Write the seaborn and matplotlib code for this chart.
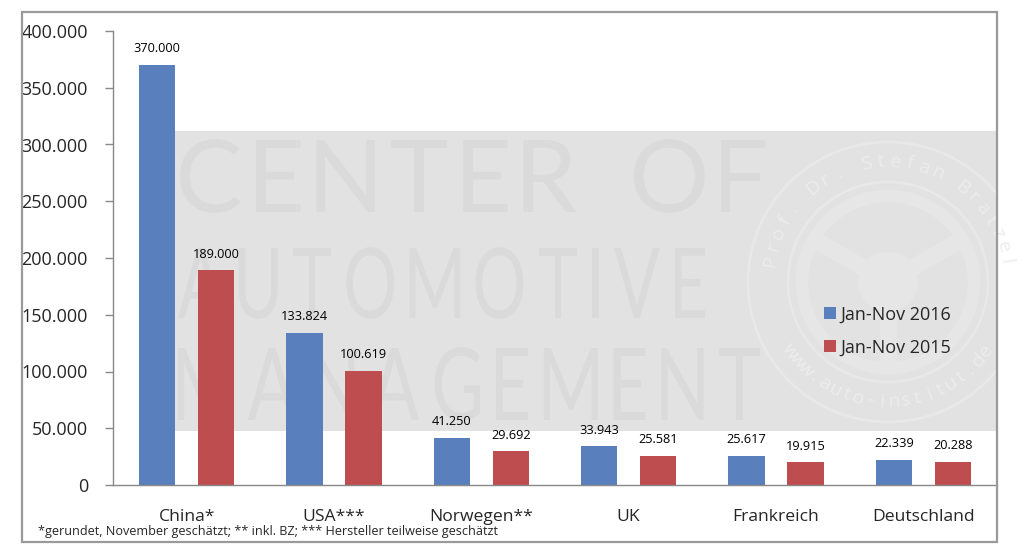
import numpy as np
import pandas as pd
import matplotlib
matplotlib.use("Agg")
import matplotlib.pyplot as plt
import seaborn as sns
from matplotlib.patches import Rectangle, PathPatch, Circle, Patch
from matplotlib.textpath import TextPath
from matplotlib.font_manager import FontProperties
from matplotlib.transforms import Affine2D

# ---------------- data ----------------
countries = ["China*", "USA***", "Norwegen**", "UK", "Frankreich", "Deutschland"]
values_2016 = [370000, 133824, 41250, 33943, 25617, 22339]
values_2015 = [189000, 100619, 29692, 25581, 19915, 20288]
series_labels = ["Jan-Nov 2016", "Jan-Nov 2015"]
y_ticks = [0, 50000, 100000, 150000, 200000, 250000, 300000, 350000, 400000]
footnote = "*gerundet, November geschätzt; ** inkl. BZ; *** Hersteller teilweise geschätzt"
watermark_lines = ["CENTER OF", "AUTOMOTIVE", "MANAGEMENT"]

colors = {series_labels[0]: "#5A7FBD", series_labels[1]: "#BE4D4F"}

df = pd.DataFrame({
    "Land": countries * 2,
    "Wert": values_2016 + values_2015,
    "Zeitraum": [series_labels[0]] * len(countries) + [series_labels[1]] * len(countries),
})

def de(v):
    return f"{v:,.0f}".replace(",", ".")

sns.set_style("white")
plt.rcParams["font.family"] = ["Open Sans", "DejaVu Sans"]

W, H = 1026, 558
fig = plt.figure(figsize=(W / 100, H / 100), dpi=100)
ax = fig.add_axes([113 / W, 1 - 485 / H, (997 - 113) / W, (485 - 31) / H])

# pixel helper (image pixels, y downward) -> figure fraction
pix = Affine2D().scale(1 / W, -1 / H).translate(0, 1) + fig.transFigure

# gray watermark band
band = Rectangle((170, 131), 997 - 170, 431 - 131, transform=pix,
                 facecolor="#E2E2E2", edgecolor="none", zorder=0.5)
ax.add_artist(band)

# watermark text: letter-spaced glyphs fitted into boxes
wm_font = FontProperties(family="Lato", weight="normal")
cap_ext = TextPath((0, 0), "H", size=100, prop=wm_font).get_extents()
boxes = [(180, 140, 765, 212), (178, 248, 705, 318), (178, 348, 760, 420)]
for txt, (x0, y0, x1, y1) in zip(watermark_lines, boxes):
    sy = (y1 - y0) / cap_ext.height
    glyphs = []
    for ch in txt:
        if ch == " ":
            glyphs.append((None, 25.0, 0))
        else:
            tp = TextPath((0, 0), ch, size=100, prop=wm_font)
            e = tp.get_extents()
            glyphs.append((tp, e.width, e.x0))
    n = len(glyphs)
    nat = sum(g[1] for g in glyphs)
    min_gap = 0.22 * (y1 - y0)
    sx = min(sy, ((x1 - x0) - min_gap * (n - 1)) / nat)
    gap = ((x1 - x0) - nat * sx) / (n - 1)
    xpos = x0
    for tp, w, ex0 in glyphs:
        if tp is not None:
            tr = (Affine2D().translate(-ex0, -cap_ext.y0).scale(sx, -sy)
                  .translate(xpos, y1) + pix)
            pp = PathPatch(tp, transform=tr, facecolor="#DADADA",
                           edgecolor="none", zorder=0.6)
            pp.set_clip_path(band)
            ax.add_artist(pp)
        xpos += w * sx + gap

# watermark seal
cx, cy = 888, 282
for r, lw, col in [(140, 2.0, "#E8E8E8"), (100, 2.0, "#E8E8E8"), (86, 9, "#E6E6E6")]:
    c = Circle((cx, cy), r, transform=pix, facecolor="none", edgecolor=col,
               lw=lw, zorder=0.6)
    c.set_clip_path(band)
    ax.add_artist(c)
for ang in [150, 30, 270]:
    a = np.deg2rad(ang)
    xs = [cx + 25 * np.cos(a), cx + 86 * np.cos(a)]
    ys = [cy - 25 * np.sin(a), cy - 86 * np.sin(a)]
    ln, = ax.plot(xs, ys, transform=pix, color="#E6E6E6", lw=12, zorder=0.6,
                  solid_capstyle="butt")
    ln.set_clip_path(band)
hub = Circle((cx, cy), 30, transform=pix, facecolor="#E6E6E6", edgecolor="none", zorder=0.6)
hub.set_clip_path(band)
ax.add_artist(hub)

def arc_text(s, start, end, radius, upper=True):
    n = len(s)
    angs = np.linspace(start, end, n)
    for ch, a in zip(s, angs):
        ar = np.deg2rad(a)
        x = cx + radius * np.cos(ar)
        y = cy - radius * np.sin(ar)
        rot = a - 90 if upper else a + 90
        t = ax.text(x, y, ch, transform=pix, fontsize=14, color="#ECECEC",
                    ha="center", va="center", rotation=rot, zorder=0.65)
        t.set_clip_path(band)

arc_text("Prof. Dr. Stefan Bratzel", 170, 10, 120, upper=True)
arc_text("www.auto-institut.de", 215, 325, 120, upper=False)

# ---------------- bars ----------------
sns.barplot(data=df, x="Land", y="Wert", hue="Zeitraum", palette=colors,
            hue_order=series_labels, order=countries, width=0.8, gap=0.38,
            saturation=1, linewidth=0, ax=ax, zorder=2)

for cont in ax.containers:
    ax.bar_label(cont, labels=[de(v) for v in cont.datavalues], padding=7,
                 fontsize=9.2, color="black")

ax.set_xlim(-0.5, 5.5)
ax.set_ylim(0, 400000)
ax.set_yticks(y_ticks)
ax.set_yticklabels([de(v) for v in y_ticks], fontsize=13)
ax.set_xticks(range(len(countries)))
ax.set_xticklabels(countries, fontsize=12.6)
ax.set_xticks(np.arange(-0.5, 5.0, 1.0), minor=True)
ax.tick_params(axis="x", which="major", length=0, pad=17)
ax.tick_params(axis="x", which="minor", length=6, width=1, color="#888888", direction="out")
ax.tick_params(axis="y", which="major", length=6, width=1, color="#888888",
               direction="out", pad=12, left=True)
ax.set_xlabel("")
ax.set_ylabel("")
for side in ["top", "right"]:
    ax.spines[side].set_visible(False)
for side in ["left", "bottom"]:
    ax.spines[side].set_color("#888888")
    ax.spines[side].set_linewidth(1)
    ax.spines[side].set_zorder(3)

handles = [Patch(facecolor=colors[s], edgecolor="none") for s in series_labels]
leg = ax.legend(handles, series_labels, loc="center left",
                bbox_to_anchor=(824 / W, 1 - 331 / H), bbox_transform=fig.transFigure,
                frameon=False, fontsize=13, handlelength=0.65, handleheight=0.65,
                handletextpad=0.25, labelspacing=0.85, borderpad=0, borderaxespad=0)
leg.set_zorder(5)

fig.text(38 / W, 1 - 532 / H, footnote, fontsize=9.1, ha="left", va="center")

# outer border
fig.patches.append(Rectangle((22 / W, 1 - 542 / H), 975 / W, 530 / H,
                             transform=fig.transFigure, facecolor="none",
                             edgecolor="#9A9A9A", lw=1.6, zorder=10))

fig.savefig("out.png", dpi=100)
